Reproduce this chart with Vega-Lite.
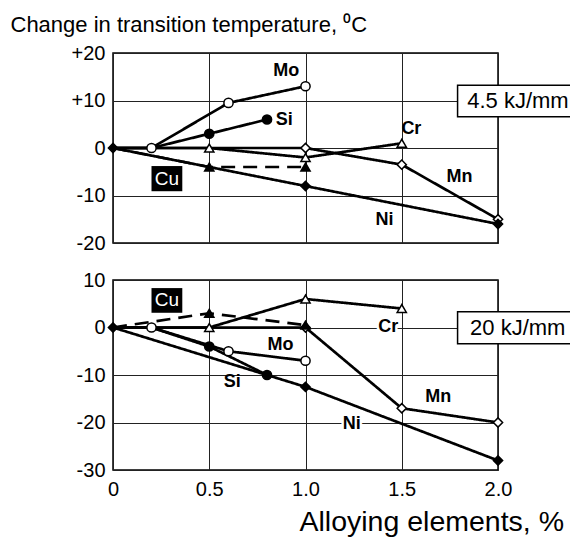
{
  "$schema": "https://vega.github.io/schema/vega-lite/v6.json",
  "padding": {"left": 9, "top": 12, "right": 0, "bottom": 0},
  "bounds": "flush",
  "spacing": 37,
  "config": {
    "font": "Liberation Sans",
    "view": {"stroke": "black", "strokeWidth": 1.5},
    "axis": {"gridColor": "#222", "gridWidth": 1, "labelColor": "black", "labelFont": "Liberation Sans", "titleColor": "black", "titleFont": "Liberation Sans"}
  },
  "resolve": {"scale": {"x": "independent", "y": "independent"}},
  "datasets": {
    "series": [
      {"p": "top", "s": "Mo", "x": 0, "y": 0}, {"p": "top", "s": "Mo", "x": 0.2, "y": 0}, {"p": "top", "s": "Mo", "x": 0.6, "y": 9.5}, {"p": "top", "s": "Mo", "x": 1.0, "y": 13},
      {"p": "top", "s": "Si", "x": 0, "y": 0}, {"p": "top", "s": "Si", "x": 0.2, "y": 0}, {"p": "top", "s": "Si", "x": 0.5, "y": 3}, {"p": "top", "s": "Si", "x": 0.8, "y": 6},
      {"p": "top", "s": "Cr", "x": 0, "y": 0}, {"p": "top", "s": "Cr", "x": 0.5, "y": 0}, {"p": "top", "s": "Cr", "x": 1.0, "y": -2}, {"p": "top", "s": "Cr", "x": 1.5, "y": 1},
      {"p": "top", "s": "Mn", "x": 0, "y": 0}, {"p": "top", "s": "Mn", "x": 1.0, "y": 0}, {"p": "top", "s": "Mn", "x": 1.5, "y": -3.5}, {"p": "top", "s": "Mn", "x": 2.0, "y": -15},
      {"p": "top", "s": "Ni", "x": 0, "y": 0}, {"p": "top", "s": "Ni", "x": 1.0, "y": -8}, {"p": "top", "s": "Ni", "x": 2.0, "y": -16},
      {"p": "top", "s": "Cu", "x": 0, "y": 0}, {"p": "top", "s": "Cu", "x": 0.5, "y": -4}, {"p": "top", "s": "Cu", "x": 1.0, "y": -4},
      {"p": "bottom", "s": "Mo", "x": 0, "y": 0}, {"p": "bottom", "s": "Mo", "x": 0.2, "y": 0}, {"p": "bottom", "s": "Mo", "x": 0.6, "y": -5}, {"p": "bottom", "s": "Mo", "x": 1.0, "y": -7},
      {"p": "bottom", "s": "Si", "x": 0, "y": 0}, {"p": "bottom", "s": "Si", "x": 0.2, "y": 0}, {"p": "bottom", "s": "Si", "x": 0.5, "y": -4}, {"p": "bottom", "s": "Si", "x": 0.8, "y": -10},
      {"p": "bottom", "s": "Cr", "x": 0, "y": 0}, {"p": "bottom", "s": "Cr", "x": 0.5, "y": 0}, {"p": "bottom", "s": "Cr", "x": 1.0, "y": 6}, {"p": "bottom", "s": "Cr", "x": 1.5, "y": 4},
      {"p": "bottom", "s": "Mn", "x": 0, "y": 0}, {"p": "bottom", "s": "Mn", "x": 1.0, "y": 0}, {"p": "bottom", "s": "Mn", "x": 1.5, "y": -17}, {"p": "bottom", "s": "Mn", "x": 2.0, "y": -20},
      {"p": "bottom", "s": "Ni", "x": 0, "y": 0}, {"p": "bottom", "s": "Ni", "x": 1.0, "y": -12.5}, {"p": "bottom", "s": "Ni", "x": 2.0, "y": -28},
      {"p": "bottom", "s": "Cu", "x": 0, "y": 0}, {"p": "bottom", "s": "Cu", "x": 0.5, "y": 3}, {"p": "bottom", "s": "Cu", "x": 1.0, "y": 0.5}
    ],
    "labels": [
      {"p": "top", "t": "Mo", "x": 0.9, "y": 16.2}, {"p": "top", "t": "Si", "x": 0.89, "y": 6}, {"p": "top", "t": "Cr", "x": 1.55, "y": 3.9}, {"p": "top", "t": "Mn", "x": 1.8, "y": -6.2}, {"p": "top", "t": "Ni", "x": 1.41, "y": -15.2},
      {"p": "bottom", "t": "Mo", "x": 0.87, "y": -3.6}, {"p": "bottom", "t": "Si", "x": 0.62, "y": -11.5}, {"p": "bottom", "t": "Cr", "x": 1.43, "y": 0.2}, {"p": "bottom", "t": "Mn", "x": 1.69, "y": -14.6}, {"p": "bottom", "t": "Ni", "x": 1.24, "y": -20.4}
    ],
    "boxes": [
      {"p": "top", "k": "cu", "x": 0.2, "x2": 0.36, "y": -3.8, "y2": -9.1},
      {"p": "bottom", "k": "cu", "x": 0.2, "x2": 0.36, "y": 8.3, "y2": 3.1},
      {"p": "top", "k": "kj", "x": 1.79, "x2": 2.4, "y": 13.2, "y2": 6.6},
      {"p": "bottom", "k": "kj", "x": 1.79, "x2": 2.4, "y": 3.3, "y2": -3.4}
    ],
    "boxtext": [
      {"p": "top", "k": "cu", "t": "Cu", "x": 0.28, "y": -6.45},
      {"p": "bottom", "k": "cu", "t": "Cu", "x": 0.28, "y": 5.7},
      {"p": "top", "k": "kj", "t": "4.5 kJ/mm", "x": 1.84, "y": 9.9},
      {"p": "bottom", "k": "kj", "t": "20 kJ/mm", "x": 1.855, "y": 0}
    ]
  },
  "vconcat": [
    {
      "width": 385,
      "height": 190,
      "layer": [
        {
          "data": {"name": "series"},
          "transform": [{"filter": "datum.p == 'top'"}],
          "mark": {"type": "line", "color": "black", "strokeWidth": 2.7},
          "encoding": {
            "x": {"field": "x", "type": "quantitative", "scale": {"domain": [0, 2], "nice": false}, "axis": {"values": [0, 0.5, 1, 1.5, 2], "labels": false, "ticks": false, "domain": false, "title": null, "grid": true}},
            "y": {"field": "y", "type": "quantitative", "scale": {"domain": [-20, 20], "nice": false}, "axis": {"values": [-20, -10, 0, 10, 20], "labelExpr": "datum.value > 0 ? '+' + datum.value : (datum.value < 0 ? '-' + abs(datum.value) : '0')", "labelFontSize": 20, "labelPadding": 8, "ticks": false, "domain": false, "grid": true, "title": "Change in transition temperature, ⁰C", "titleAngle": 0, "titleAlign": "left", "titleBaseline": "alphabetic", "titleX": -103, "titleY": -22, "titleFontSize": 22, "titleFontWeight": "normal"}},
            "detail": {"field": "s"},
            "strokeDash": {"field": "s", "type": "nominal", "scale": {"domain": ["Mo", "Si", "Cr", "Mn", "Ni", "Cu"], "range": [[1, 0], [1, 0], [1, 0], [1, 0], [1, 0], [14, 8]]}, "legend": null},
            "order": {"field": "x", "type": "quantitative"}
          }
        },
        {
          "data": {"name": "series"},
          "transform": [{"filter": "datum.p == 'top' && !(datum.x == 0 && datum.s != 'Ni') && !(datum.s == 'Si' && datum.x == 0.2)"}],
          "mark": {"type": "point", "stroke": "black", "strokeWidth": 1.5, "opacity": 1, "size": 85},
          "encoding": {
            "x": {"field": "x", "type": "quantitative"},
            "y": {"field": "y", "type": "quantitative"},
            "shape": {"field": "s", "type": "nominal", "scale": {"domain": ["Mo", "Si", "Cr", "Mn", "Ni", "Cu"], "range": ["circle", "circle", "triangle-up", "diamond", "diamond", "triangle-up"]}, "legend": null},
            "fill": {"field": "s", "type": "nominal", "scale": {"domain": ["Mo", "Si", "Cr", "Mn", "Ni", "Cu"], "range": ["white", "black", "white", "white", "black", "black"]}, "legend": null}
          }
        },
        {
          "data": {"name": "boxes"},
          "transform": [{"filter": "datum.p == 'top' && datum.k == 'cu'"}],
          "mark": {"type": "rect", "fill": "black", "clip": false},
          "encoding": {"x": {"field": "x", "type": "quantitative"}, "x2": {"field": "x2"}, "y": {"field": "y", "type": "quantitative"}, "y2": {"field": "y2"}}
        },
        {
          "data": {"name": "boxes"},
          "transform": [{"filter": "datum.p == 'top' && datum.k == 'kj'"}],
          "mark": {"type": "rect", "fill": "white", "stroke": "black", "strokeWidth": 1.5, "clip": false},
          "encoding": {"x": {"field": "x", "type": "quantitative"}, "x2": {"field": "x2"}, "y": {"field": "y", "type": "quantitative"}, "y2": {"field": "y2"}}
        },
        {
          "data": {"name": "boxtext"},
          "transform": [{"filter": "datum.p == 'top' && datum.k == 'cu'"}],
          "mark": {"type": "text", "baseline": "middle", "align": "center", "fill": "white", "fontSize": 19, "clip": false},
          "encoding": {"x": {"field": "x", "type": "quantitative"}, "y": {"field": "y", "type": "quantitative"}, "text": {"field": "t"}}
        },
        {
          "data": {"name": "boxtext"},
          "transform": [{"filter": "datum.p == 'top' && datum.k == 'kj'"}],
          "mark": {"type": "text", "baseline": "middle", "align": "left", "fill": "black", "fontSize": 22, "clip": false},
          "encoding": {"x": {"field": "x", "type": "quantitative"}, "y": {"field": "y", "type": "quantitative"}, "text": {"field": "t"}}
        },
        {
          "data": {"name": "labels"},
          "transform": [{"filter": "datum.p == 'top'"}],
          "mark": {"type": "text", "fontWeight": "bold", "fontSize": 18, "baseline": "middle", "align": "center", "color": "black"},
          "encoding": {"x": {"field": "x", "type": "quantitative"}, "y": {"field": "y", "type": "quantitative"}, "text": {"field": "t"}}
        }
      ]
    },
    {
      "width": 385,
      "height": 190,
      "layer": [
        {
          "data": {"name": "series"},
          "transform": [{"filter": "datum.p == 'bottom'"}],
          "mark": {"type": "line", "color": "black", "strokeWidth": 2.7},
          "encoding": {
            "x": {"field": "x", "type": "quantitative", "scale": {"domain": [0, 2], "nice": false}, "axis": {"values": [0, 0.5, 1, 1.5, 2], "labelExpr": "datum.value == 0 ? '0' : format(datum.value, '.1f')", "labelFontSize": 20, "labelPadding": 9, "labelFlush": false, "ticks": false, "domain": false, "grid": true, "title": "Alloying elements, %", "titleAlign": "left", "titleAnchor": "start", "titleBaseline": "alphabetic", "titleX": 186, "titleY": 60, "titleFontSize": 28.5, "titleFontWeight": "normal"}},
            "y": {"field": "y", "type": "quantitative", "scale": {"domain": [-30, 10], "nice": false}, "axis": {"values": [-30, -20, -10, 0, 10], "labelExpr": "datum.value < 0 ? '-' + abs(datum.value) : '' + datum.value", "labelFontSize": 20, "labelPadding": 8, "ticks": false, "domain": false, "grid": true, "title": null}},
            "detail": {"field": "s"},
            "strokeDash": {"field": "s", "type": "nominal", "scale": {"domain": ["Mo", "Si", "Cr", "Mn", "Ni", "Cu"], "range": [[1, 0], [1, 0], [1, 0], [1, 0], [1, 0], [14, 8]]}, "legend": null},
            "order": {"field": "x", "type": "quantitative"}
          }
        },
        {
          "data": {"name": "series"},
          "transform": [{"filter": "datum.p == 'bottom' && !(datum.x == 0 && datum.s != 'Ni') && !(datum.s == 'Si' && datum.x == 0.2)"}],
          "mark": {"type": "point", "stroke": "black", "strokeWidth": 1.5, "opacity": 1, "size": 85},
          "encoding": {
            "x": {"field": "x", "type": "quantitative"},
            "y": {"field": "y", "type": "quantitative"},
            "shape": {"field": "s", "type": "nominal", "scale": {"domain": ["Mo", "Si", "Cr", "Mn", "Ni", "Cu"], "range": ["circle", "circle", "triangle-up", "diamond", "diamond", "triangle-up"]}, "legend": null},
            "fill": {"field": "s", "type": "nominal", "scale": {"domain": ["Mo", "Si", "Cr", "Mn", "Ni", "Cu"], "range": ["white", "black", "white", "white", "black", "black"]}, "legend": null}
          }
        },
        {
          "data": {"name": "boxes"},
          "transform": [{"filter": "datum.p == 'bottom' && datum.k == 'cu'"}],
          "mark": {"type": "rect", "fill": "black", "clip": false},
          "encoding": {"x": {"field": "x", "type": "quantitative"}, "x2": {"field": "x2"}, "y": {"field": "y", "type": "quantitative"}, "y2": {"field": "y2"}}
        },
        {
          "data": {"name": "boxes"},
          "transform": [{"filter": "datum.p == 'bottom' && datum.k == 'kj'"}],
          "mark": {"type": "rect", "fill": "white", "stroke": "black", "strokeWidth": 1.5, "clip": false},
          "encoding": {"x": {"field": "x", "type": "quantitative"}, "x2": {"field": "x2"}, "y": {"field": "y", "type": "quantitative"}, "y2": {"field": "y2"}}
        },
        {
          "data": {"name": "boxtext"},
          "transform": [{"filter": "datum.p == 'bottom' && datum.k == 'cu'"}],
          "mark": {"type": "text", "baseline": "middle", "align": "center", "fill": "white", "fontSize": 19, "clip": false},
          "encoding": {"x": {"field": "x", "type": "quantitative"}, "y": {"field": "y", "type": "quantitative"}, "text": {"field": "t"}}
        },
        {
          "data": {"name": "boxtext"},
          "transform": [{"filter": "datum.p == 'bottom' && datum.k == 'kj'"}],
          "mark": {"type": "text", "baseline": "middle", "align": "left", "fill": "black", "fontSize": 22, "clip": false},
          "encoding": {"x": {"field": "x", "type": "quantitative"}, "y": {"field": "y", "type": "quantitative"}, "text": {"field": "t"}}
        },
        {
          "data": {"name": "labels"},
          "transform": [{"filter": "datum.p == 'bottom' && (datum.t == 'Cr' || datum.t == 'Ni')"}],
          "mark": {"type": "text", "fontWeight": "bold", "fontSize": 18, "baseline": "middle", "align": "center", "stroke": "white", "strokeWidth": 5, "fill": "white"},
          "encoding": {"x": {"field": "x", "type": "quantitative"}, "y": {"field": "y", "type": "quantitative"}, "text": {"field": "t"}}
        },
        {
          "data": {"name": "labels"},
          "transform": [{"filter": "datum.p == 'bottom'"}],
          "mark": {"type": "text", "fontWeight": "bold", "fontSize": 18, "baseline": "middle", "align": "center", "color": "black"},
          "encoding": {"x": {"field": "x", "type": "quantitative"}, "y": {"field": "y", "type": "quantitative"}, "text": {"field": "t"}}
        }
      ]
    }
  ]
}
